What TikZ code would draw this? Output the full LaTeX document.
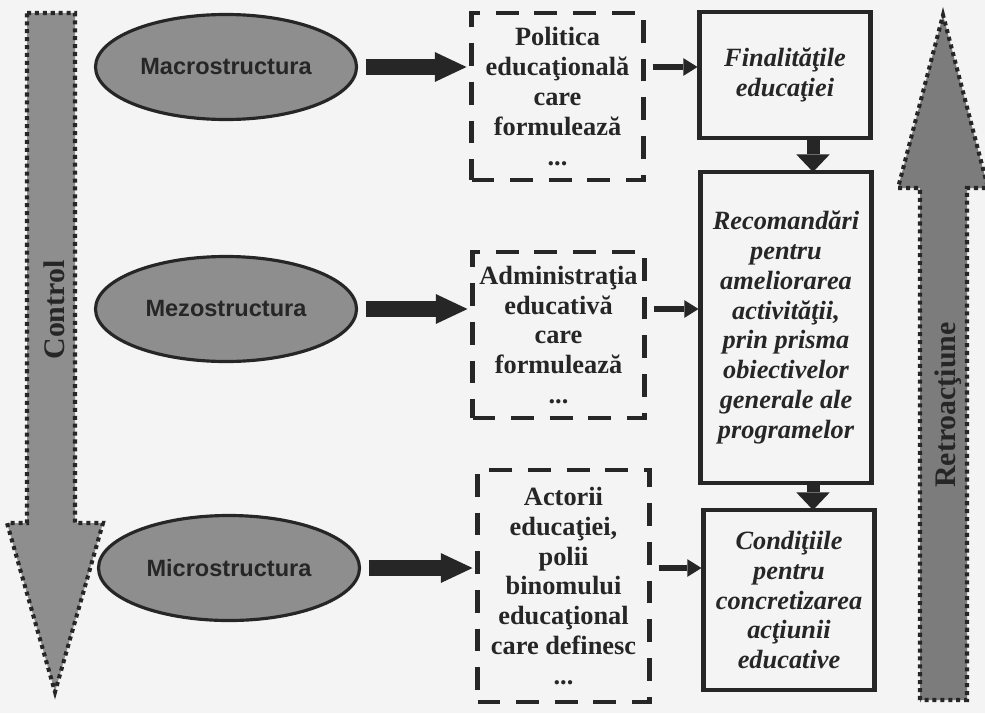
\documentclass[tikz,border=0pt]{standalone}
\usepackage{fontspec}
\setmainfont{Liberation Serif}
\newfontfamily\sansbf{Liberation Sans}
\usetikzlibrary{shapes.geometric,arrows.meta}
\definecolor{paper}{HTML}{F4F4F4}
\definecolor{ink}{HTML}{262626}
\definecolor{midgray}{HTML}{8E8E8E}
\definecolor{bandgray}{HTML}{7C7C7C}
\begin{document}
\begin{tikzpicture}[inner sep=0pt,outer sep=0pt,
level/.style={draw=ink,fill=midgray,ellipse,line width=1.8pt,minimum width=5.22cm,minimum height=2.1cm,font=\sansbf\bfseries\fontsize{13.4}{16}\selectfont,text=ink},
actor/.style={draw=ink,rectangle,line width=2.3pt,dash pattern=on 13pt off 9pt,align=center,font=\bfseries\fontsize{15}{17}\selectfont,text=ink,minimum width=3.44cm},
goal/.style={draw=ink,rectangle,line width=2.3pt,align=center,font=\bfseries\itshape\fontsize{15}{17}\selectfont,text=ink,minimum width=3.42cm},
bigarrow/.style={draw=ink,line width=2.3pt,dash pattern=on 2.3pt off 2.2pt},
bandtext/.style={rotate=90,font=\bfseries\fontsize{17}{20}\selectfont,text=ink},
blockarrow/.style={draw=ink,line width=9.6pt,-{Triangle[length=18pt,width=17pt,line width=0pt]},shorten <=0.18cm,shorten >=0.1cm},
thinarrow/.style={draw=ink,line width=3pt,-{Triangle[length=8pt,width=10pt,line width=0pt]},shorten <=0.18cm,shorten >=0.04cm},
downarrow/.style={draw=ink,line width=7.4pt,-{Triangle[length=10pt,width=19pt,line width=0pt]}}]
\useasboundingbox (0,0) rectangle (19.7,-14.26);
\fill[paper] (0,0) rectangle (19.7,-14.26);
\draw[bigarrow,fill=midgray] (0.54,-0.26) -- (1.50,-0.26) -- (1.50,-10.46) -- (2.06,-10.46) -- (1.10,-13.84) -- (0.14,-10.46) -- (0.54,-10.46) -- cycle;
\draw[bigarrow,fill=bandgray] (18.4,-14.0) -- (18.4,-3.76) -- (17.96,-3.76) -- (18.86,-0.3) -- (19.76,-3.76) -- (19.34,-3.76) -- (19.34,-14.0) -- cycle;
\draw (1.08,-6.2) node[bandtext] (ctl) {Control};
\draw (18.96,-8.1) node[bandtext] (ret) {Retroacţiune};
\draw (4.52,-1.34) node[level] (mac) {Macrostructura};
\draw (4.52,-6.18) node[level] (mez) {Mezostructura};
\draw (4.58,-11.36) node[level] (mic) {Microstructura};
\draw (11.15,-1.93) node[actor,minimum height=3.34cm] (pol) {Politica\\educaţională\\care\\formulează\\...};
\draw (11.17,-6.7) node[actor,minimum height=3.32cm] (adm) {Administraţia\\educativă\\care\\formulează\\...};
\draw (11.27,-11.72) node[actor,minimum height=4.64cm] (act) {Actorii\\educaţiei,\\polii\\binomului\\educaţional\\care definesc\\...};
\draw (15.7,-1.5) node[goal,minimum height=2.52cm] (fin) {Finalităţile\\educaţiei};
\draw (15.72,-6.55) node[goal,minimum height=6.22cm] (rec) {Recomandări\\pentru\\ameliorarea\\activităţii,\\prin prisma\\obiectivelor\\generale ale\\programelor};
\draw (15.78,-12.0) node[goal,minimum height=3.6cm] (con) {Condiţiile\\pentru\\concretizarea\\acţiunii\\educative};
\coordinate (dn) at (16.26,0);
\draw[blockarrow] (mac.east) -- (mac -| pol.west);
\draw[blockarrow] (mez.east) -- (mez -| adm.west);
\draw[blockarrow] (mic.east) -- (mic -| act.west);
\draw[thinarrow] (pol.east |- mac) -- (mac -| fin.west);
\draw[thinarrow] (adm.east |- mez) -- (mez -| rec.west);
\draw[thinarrow] (act.east |- mic) -- (mic -| con.west);
\draw[downarrow] (fin.south -| dn) -- (rec.north -| dn);
\draw[downarrow] (rec.south -| dn) -- (con.north -| dn);
\end{tikzpicture}
\end{document}
